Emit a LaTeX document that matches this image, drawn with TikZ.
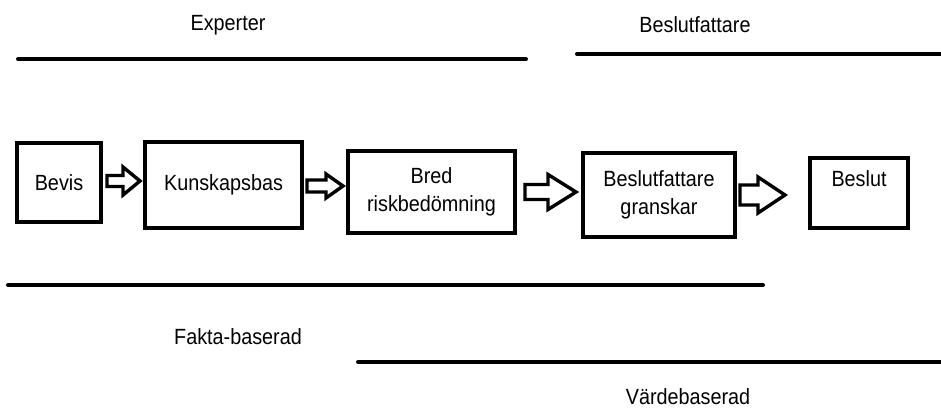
\documentclass[tikz,border=0pt]{standalone}
\usepackage{fontspec}
\setmainfont[FakeStretch=0.9]{Liberation Sans}
\usetikzlibrary{calc}
% hollow block arrow: start, end, shaft half width, head half width, head length
\newcommand{\fatarrow}[5]{%
  \draw[arr] ($(#1)+(0,#3)$) -- ($(#2)+(-#5,#3)$) -- ($(#2)+(-#5,#4)$) -- (#2)
    -- ($(#2)+(-#5,-#4)$) -- ($(#2)+(-#5,-#3)$) -- ($(#1)+(0,-#3)$) -- cycle;}

\begin{document}
\begin{tikzpicture}[x=0.5pt,y=-0.5pt,
  box/.style={draw,line width=2pt,inner sep=0pt,align=center,font=\fontsize{11}{14}\selectfont},
  lbl/.style={inner sep=0pt,font=\fontsize{11}{14}\selectfont},
  bar/.style={line width=2pt,line cap=round},
  arr/.style={line width=1.7pt,line join=miter}]
  \useasboundingbox (0,0) rectangle (941,408);
  % the chain of steps (sizes in pt, half the pixel size)
  \node[box,minimum width=42pt,minimum height=39.5pt] (bevis) at (59,182.5) {Bevis};
  \node[box,minimum width=78.5pt,minimum height=43pt] (kunskap) at (223.5,185) {Kunskapsbas};
  \node[box,minimum width=83.5pt,minimum height=41pt] (bred) at (431.5,192) {Bred\\riskbedömning};
  \node[box,minimum width=76pt,minimum height=42pt] (granskar) at (659,195) {Beslutfattare\\granskar};
  \node[box,minimum width=49pt,minimum height=35pt] (beslut) at (859,193) {Beslut\\\mbox{}};
  % block arrows between the steps
  \coordinate (a1s) at ($(bevis.east)+(4,-1.5)$);
  \coordinate (a1e) at ($(bevis.east -| kunskap.west)+(-3,-1.5)$);
  \coordinate (a2s) at ($(kunskap.east)+(3,1)$);
  \coordinate (a2e) at ($(kunskap.east -| bred.west)+(-3,1)$);
  \coordinate (a3s) at ($(bred.east)+(8,0)$);
  \coordinate (a3e) at ($(bred.east -| granskar.west)+(-5,0)$);
  \coordinate (a4s) at ($(granskar.east)+(3,0)$);
  \coordinate (a4e) at ($(granskar.east -| beslut.west)+(-23,0)$);
  \fatarrow{a1s}{a1e}{5.5}{14}{17}
  \fatarrow{a2s}{a2e}{6}{12}{17}
  \fatarrow{a3s}{a3e}{7.5}{17.5}{28}
  \fatarrow{a4s}{a4e}{10}{18}{27}
  % who works where
  \node[lbl] (experter) at (228,25) {Experter};
  \node[lbl] (beslutfattare) at (695,25) {Beslutfattare};
  \draw[bar] (18,59) -- (526,59);
  \draw[bar] (577,54) -- (941,54);
  % kind of basis
  \draw[bar] (8,285) -- (763,285);
  \node[lbl] (fakta) at (238,337) {Fakta-baserad};
  \draw[bar] (358,362) -- (941,362);
  \node[lbl] (varde) at (688,397) {Värdebaserad};
\end{tikzpicture}
\end{document}
